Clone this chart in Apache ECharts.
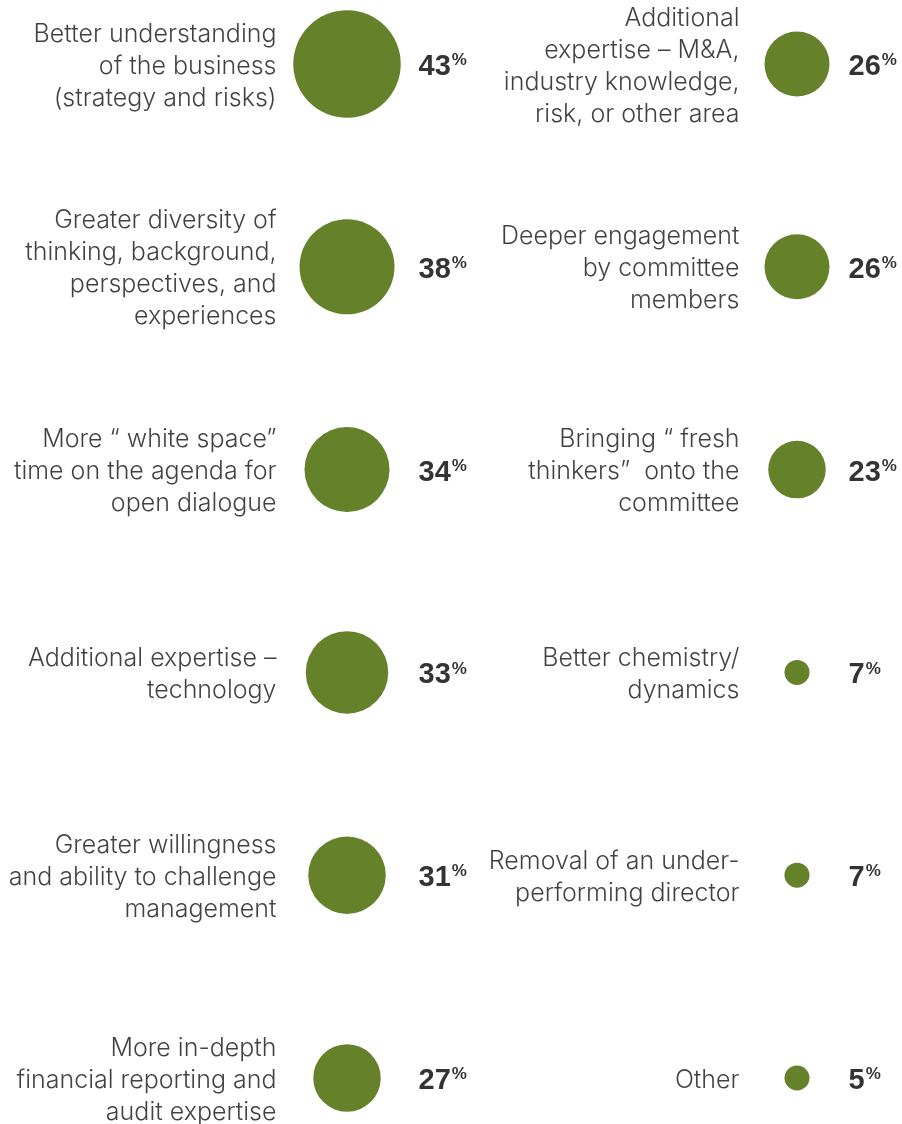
<!DOCTYPE html>
<html>
<head>
<meta charset="utf-8">
<script src="https://cdn.jsdelivr.net/npm/echarts@6/dist/echarts.min.js"></script>
<style>
html,body{margin:0;padding:0;background:#fff;}
#chart{width:902px;height:1124px;}
</style>
</head>
<body>
<div id="chart"></div>
<script>
// Left column
const leftCategories = [
  "Better understanding\nof the business\n(strategy and risks)",
  "Greater diversity of\nthinking, background,\nperspectives, and\nexperiences",
  "More \u201C white space\u201D\ntime on the agenda for\nopen dialogue",
  "Additional expertise \u2013\ntechnology",
  "Greater willingness\nand ability to challenge\nmanagement",
  "More in-depth\nfinancial reporting and\naudit expertise"
];
const leftValues = [43, 38, 34, 33, 31, 27];
// Right column
const rightCategories = [
  "Additional\nexpertise \u2013 M&A,\nindustry knowledge,\nrisk, or other area",
  "Deeper engagement\nby committee\nmembers",
  "Bringing \u201C fresh\nthinkers\u201D  onto the\ncommittee",
  "Better chemistry/\ndynamics",
  "Removal of an under-\nperforming director",
  "Other"
];
const rightValues = [26, 26, 23, 7, 7, 5];

// layout columns (pixel units on a 0..902 x-axis)
const COL = {
  left:  { text: 277, bubble: 347, pct: 418 },
  right: { text: 740, bubble: 797, pct: 848 }
};
const GREEN = '#65812a';
const FONT = 'Inter';

function bubbleSize(v) { return Math.max(v * 2.5, 25); }

const bubbleData = [], textData = [], pctData = [];
leftValues.forEach((v, i) => {
  bubbleData.push([COL.left.bubble, i, v]);
  textData.push({ value: [COL.left.text, i], name: leftCategories[i] });
  pctData.push({ value: [COL.left.pct, i], name: String(v) });
});
rightValues.forEach((v, i) => {
  bubbleData.push([COL.right.bubble, i, v]);
  textData.push({ value: [COL.right.text, i], name: rightCategories[i] });
  pctData.push({ value: [COL.right.pct, i], name: String(v) });
});

const chart = echarts.init(document.getElementById('chart'), null, { renderer: 'canvas' });
chart.setOption({
  animation: false,
  backgroundColor: '#ffffff',
  grid: { left: 0, right: 0, top: 64, bottom: 46 },
  xAxis: { type: 'value', min: 0, max: 902, show: false },
  yAxis: { type: 'value', min: 0, max: 5, inverse: true, show: false },
  series: [
    {
      type: 'scatter',
      data: bubbleData,
      symbol: 'circle',
      symbolSize: d => bubbleSize(d[2]),
      itemStyle: { color: GREEN, opacity: 1 },
      silent: true
    },
    {
      type: 'scatter',
      data: textData,
      symbolSize: 1,
      itemStyle: { color: 'rgba(0,0,0,0)' },
      label: {
        show: true,
        position: 'left',
        distance: 0,
        align: 'right',
        offset: [0, 2],
        formatter: p => p.name,
        fontFamily: FONT,
        fontWeight: 300,
        fontSize: 25,
        lineHeight: 32,
        color: '#111111'
      },
      silent: true
    },
    {
      type: 'scatter',
      data: pctData,
      symbolSize: 1,
      itemStyle: { color: 'rgba(0,0,0,0)' },
      label: {
        show: true,
        position: 'right',
        distance: 0,
        offset: [0, 3],
        formatter: p => '{n|' + p.name + '}{p|%}',
        rich: {
          n: { fontFamily: 'Liberation Sans', fontWeight: 'bold', fontSize: 29, color: '#000', lineHeight: 30 },
          p: { fontFamily: 'Liberation Sans', fontWeight: 'bold', fontSize: 17, color: '#000', verticalAlign: 'top', lineHeight: 30, padding: [0,0,9,1] }
        }
      },
      silent: true
    }
  ]
});
</script>
</body>
</html>
